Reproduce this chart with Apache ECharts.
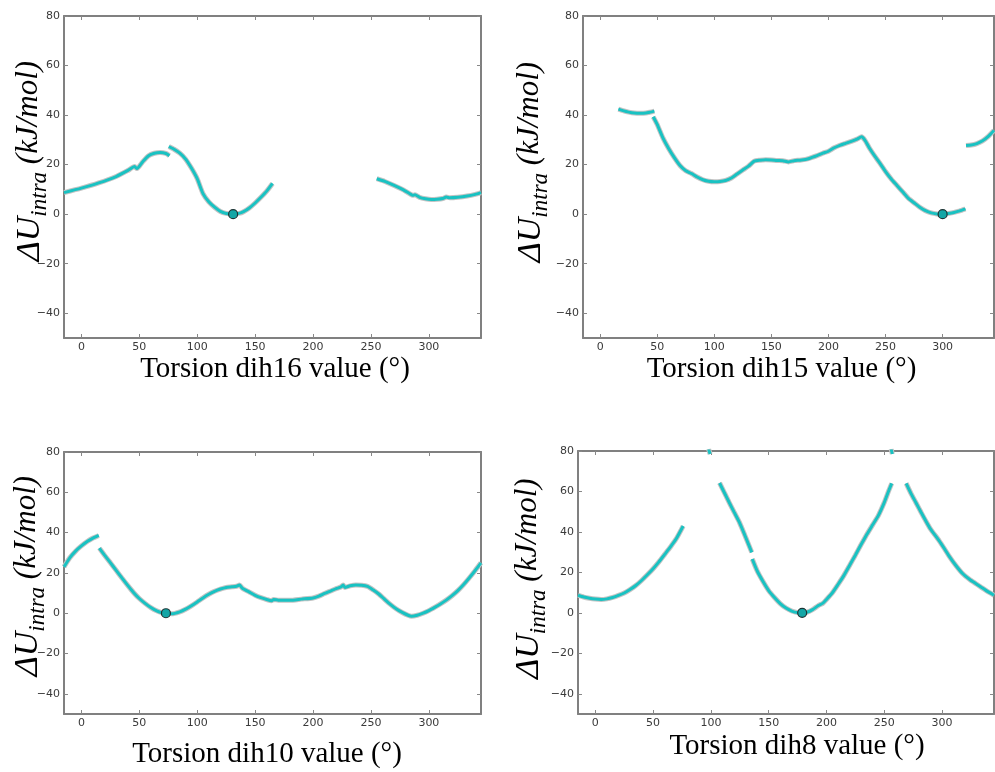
<!DOCTYPE html>
<html>
<head>
<meta charset="utf-8">
<script src="https://cdn.jsdelivr.net/npm/echarts@6/dist/echarts.min.js"></script>
<style>
    html, body { margin: 0; padding: 0; background: #fff; }
    #chart { width: 995px; height: 772px; }
</style>
</head>
<body>
<div id="chart"></div>
<script>
/* tick values shared by all four panels */
let angleTicks = [0, 50, 100, 150, 200, 250, 300];
let energyTicks = [-40, -20, 0, 20, 40, 60, 80];

/* torsion scans, null = break between segments */
let dih16Angle = [-15, 0, 15, 30, 40, 46, 48, 53, 58, 63, 68, 73, 76, null,
    75.5, 80, 85, 90, 95, 100, 105, 110, 115, 120, 125, 131, 136, 140, 145, 150, 155, 160, 165, null,
    255, 262, 270, 278, 284, 286, 288, 292, 297, 302, 307, 312, 315, 318, 325, 333, 340, 345];
let dih16Energy = [8.7, 10.5, 12.6, 15.2, 17.6, 19.2, 18.4, 21.2, 23.6, 24.6, 24.9, 24.5, 23.6, null,
    27.3, 26.2, 24.6, 22.2, 18.6, 14.3, 8.3, 5.0, 2.8, 1.1, 0.3, 0, 0.3, 1.0, 2.5, 4.5, 6.8, 9.3, 12.4, null,
    14.3, 13.2, 11.6, 9.8, 8.1, 7.6, 7.8, 6.8, 6.2, 5.9, 6.0, 6.3, 6.9, 6.6, 6.8, 7.3, 8.0, 8.7];

let dih15Angle = [16, 20, 25, 30, 35, 40, 44, 47.5, null,
    46.5, 50, 55, 60, 65, 70, 75, 80, 85, 90, 95, 100, 105, 110, 115, 120, 125, 130, 135, 140, 145, 150,
    155, 160, 165, 170, 175, 180, 185, 190, 195, 200, 205, 210, 215, 220, 225, 229, 232, 236, 240, 245,
    250, 255, 260, 265, 270, 275, 280, 285, 290, 295, 300, 305, 310, 315, 320, null,
    320.5, 325, 330, 335, 340, 345];
let dih15Energy = [42.4, 41.8, 41.2, 40.8, 40.7, 40.8, 41.2, 41.6, null,
    39.3, 36.2, 30.8, 26.5, 22.8, 19.6, 17.5, 16.4, 15.0, 13.9, 13.3, 13.1, 13.2, 13.6, 14.6, 16.2, 17.8, 19.4, 21.4, 21.8, 22.0, 21.9,
    21.7, 21.6, 21.1, 21.6, 21.8, 22.1, 22.8, 23.6, 24.6, 25.4, 26.8, 27.8, 28.6, 29.4, 30.3, 31.2, 29.8, 26.6, 23.8, 20.6,
    17.2, 14.2, 11.6, 9.0, 6.4, 4.6, 2.8, 1.4, 0.5, 0.1, 0, 0.3, 0.7, 1.3, 2.1, null,
    27.7, 27.9, 28.5, 29.6, 31.4, 33.8];

let dih10Angle = [-15, -10, -5, 0, 5, 10, 15, null,
    15.5, 20, 25, 30, 35, 40, 45, 50, 55, 60, 65, 70, 73, 78, 85, 90, 95, 100, 105, 110, 115, 120, 125, 130,
    134, 136.5, 139, 145, 150, 155, 160, 164, 166, 170, 180, 190, 200, 205, 210, 215, 220, 224, 226, 227.5,
    232, 237, 242, 247, 252, 257, 262, 267, 272, 277, 282, 285, 290, 295, 300, 305, 310, 315, 320, 325,
    330, 335, 340, 345];
let dih10Energy = [23, 27.5, 30.8, 33.4, 35.6, 37.3, 38.6, null,
    32.3, 28.8, 25.1, 21.3, 17.5, 13.8, 10.3, 7.3, 4.9, 2.8, 1.2, 0.2, 0, -0.3, 0.7, 2.0, 3.7, 5.6, 7.6, 9.4, 10.9, 12.0, 12.8, 13.1,
    13.4, 14.0, 12.4, 10.5, 8.9, 7.7, 6.8, 6.2, 6.8, 6.5, 6.4, 7.0, 7.6, 8.5, 9.8, 11.0, 12.2, 13.0, 14.0, 12.8,
    13.6, 14.0, 13.9, 13.3, 11.5, 9.4, 6.8, 4.3, 2.1, 0.4, -1.0, -1.5, -1.0, 0, 1.3, 2.9, 4.6, 6.5, 8.7, 11.2,
    14.2, 17.6, 21.2, 25];

let dih8Angle = [-15, -10, -5, 0, 5, 10, 15, 20, 25, 30, 35, 40, 45, 50, 55, 60, 65, 70, 76, null,
    98, 99.3, null,
    107.5, 112, 116, 120, 124.8, 130, 135.4, null,
    135.8, 140, 145, 150, 155, 160, 165, 170, 175, 179, 183, 188, 193, 197, 200, 205, 210, 215, 220, 225,
    230, 235, 240, 245, 250, 254, 256.5, null,
    256, 257, null,
    269, 273, 277.5, 282, 286, 290, 297.6, 302, 306, 312, 318, 324, 329.4, 334, 338, 345];
let dih8Energy = [8.7, 7.8, 7.2, 6.8, 6.6, 6.9, 7.6, 8.6, 9.8, 11.5, 13.5, 16.0, 18.8, 21.8, 25.2, 28.9, 32.6, 36.6, 42.9, null,
    81, 78.5, null,
    64.2, 59, 54.4, 49.9, 44.6, 37.5, 29.9, null,
    26.6, 20.8, 15.6, 11.0, 7.6, 4.6, 2.4, 0.9, 0.1, 0, 0.3, 1.6, 3.6, 4.8, 6.6, 9.8, 14.0, 18.4, 23.4, 28.5,
    33.8, 38.8, 43.5, 48.2, 54.5, 60.5, 64, null,
    81, 78.5, null,
    64, 59.2, 54.4, 49.6, 45.4, 41.5, 35.6, 31.8, 28.2, 23.4, 19.3, 16.5, 14.4, 12.6, 11.1, 8.7];

/* reference minimum of each scan */
let minAngle = [131, 300, 73, 179];
let minEnergy = [0, 0, 0, 0];

let torsionNames = ['dih16', 'dih15', 'dih10', 'dih8'];

let zip = function (xs, ys) {
    let out = [];
    xs.forEach(function (x, i) {
        out.push(ys[i] === null ? ['-', '-'] : [x, ys[i]]);
    });
    return out;
};

let tickFmt = function (v) {
    return String(v).replace('-', '\u2212');
};

let myChart = echarts.init(document.getElementById('chart'));

let grids = [
    {left: 64, top: 16, width: 417, height: 322},
    {left: 583, top: 16, width: 411, height: 322},
    {left: 64, top: 452, width: 417, height: 262},
    {left: 578, top: 451, width: 416, height: 263}
];
grids.forEach(function (g) {
    g.outerBoundsMode = 'none';
    g.containLabel = false;
});
let xNameGap = [17, 17, 26, 18];
let xNamePad = [[0, 0, 0, 5], [0, 14, 0, 0], [0, 11, 0, 0], [0, 0, 0, 22]];
let yNameGap = [17, 35, 19, 32];
let yShift = [32, 30, 14, 8];
let scans = [
    [dih16Angle, dih16Energy],
    [dih15Angle, dih15Energy],
    [dih10Angle, dih10Energy],
    [dih8Angle, dih8Energy]
];

let frameLine = {show: true, onZero: false, lineStyle: {color: '#808080', width: 2}};
let innerTick = {show: true, inside: true, length: 4, lineStyle: {color: '#888', width: 1}};
let labelStyle = {color: '#3a3a3a', fontSize: 11, fontFamily: 'DejaVu Sans', margin: 4, formatter: tickFmt};
let serif = 'Liberation Serif';

let options = {
    animation: false,
    backgroundColor: '#fff',
    grid: grids,
    xAxis: [],
    yAxis: [],
    series: []
};

grids.forEach(function (g, i) {
    // bottom + top frame
    options.xAxis.push({
        type: 'value', gridIndex: i, min: -15, max: 345, position: 'bottom',
        name: 'Torsion ' + torsionNames[i] + ' value (\u00b0)',
        nameLocation: 'middle', nameGap: xNameGap[i],
        nameTextStyle: {fontFamily: serif, fontSize: 29, color: '#000', padding: xNamePad[i]},
        axisLine: frameLine,
        axisTick: Object.assign({customValues: angleTicks}, innerTick),
        axisLabel: Object.assign({customValues: angleTicks}, labelStyle),
        splitLine: {show: false}
    });
    options.xAxis.push({
        type: 'value', gridIndex: i, min: -15, max: 345, position: 'top',
        axisLine: frameLine,
        axisTick: Object.assign({customValues: angleTicks}, innerTick),
        axisLabel: {show: false},
        splitLine: {show: false}
    });
    // left + right frame
    options.yAxis.push({
        type: 'value', gridIndex: i, min: -50, max: 80, position: 'left',
        name: '{d|\u0394U}{s|intra}{u| (kJ/mol)}',
        nameLocation: 'middle', nameGap: yNameGap[i], nameMoveOverlap: false,
        nameTextStyle: {
            padding: [0, 0, 0, yShift[i]],
            rich: {
                d: {fontFamily: serif, fontStyle: 'italic', fontSize: 34, color: '#000', verticalAlign: 'top', lineHeight: 34},
                s: {fontFamily: serif, fontStyle: 'italic', fontSize: 23, color: '#000', verticalAlign: 'top', lineHeight: 22, padding: [15, 0, 0, 0]},
                u: {fontFamily: serif, fontStyle: 'italic', fontSize: 31, color: '#000', verticalAlign: 'top', lineHeight: 34}
            }
        },
        axisLine: frameLine,
        axisTick: Object.assign({customValues: energyTicks}, innerTick),
        axisLabel: Object.assign({customValues: energyTicks}, labelStyle),
        splitLine: {show: false}
    });
    options.yAxis.push({
        type: 'value', gridIndex: i, min: -50, max: 80, position: 'right',
        axisLine: frameLine,
        axisTick: Object.assign({customValues: energyTicks}, innerTick),
        axisLabel: {show: false},
        splitLine: {show: false}
    });

    let pts = zip(scans[i][0], scans[i][1]);
    // light grey halo under the cyan curve
    options.series.push({
        type: 'line', xAxisIndex: i * 2, yAxisIndex: i * 2,
        data: pts, showSymbol: false, smooth: 0.2, connectNulls: false,
        lineStyle: {color: '#c4c4c4', width: 5}, silent: true, z: 2
    });
    options.series.push({
        type: 'line', xAxisIndex: i * 2, yAxisIndex: i * 2,
        data: pts, showSymbol: false, smooth: 0.2, connectNulls: false,
        lineStyle: {color: '#19c2c2', width: 3}, silent: true, z: 3
    });
    options.series.push({
        type: 'scatter', xAxisIndex: i * 2, yAxisIndex: i * 2,
        data: [[minAngle[i], minEnergy[i]]],
        symbolSize: 9,
        itemStyle: {color: '#13a6a6', borderColor: '#1c3434', borderWidth: 1.2, opacity: 1},
        z: 4
    });
});

myChart.setOption(options);
</script>
</body>
</html>
